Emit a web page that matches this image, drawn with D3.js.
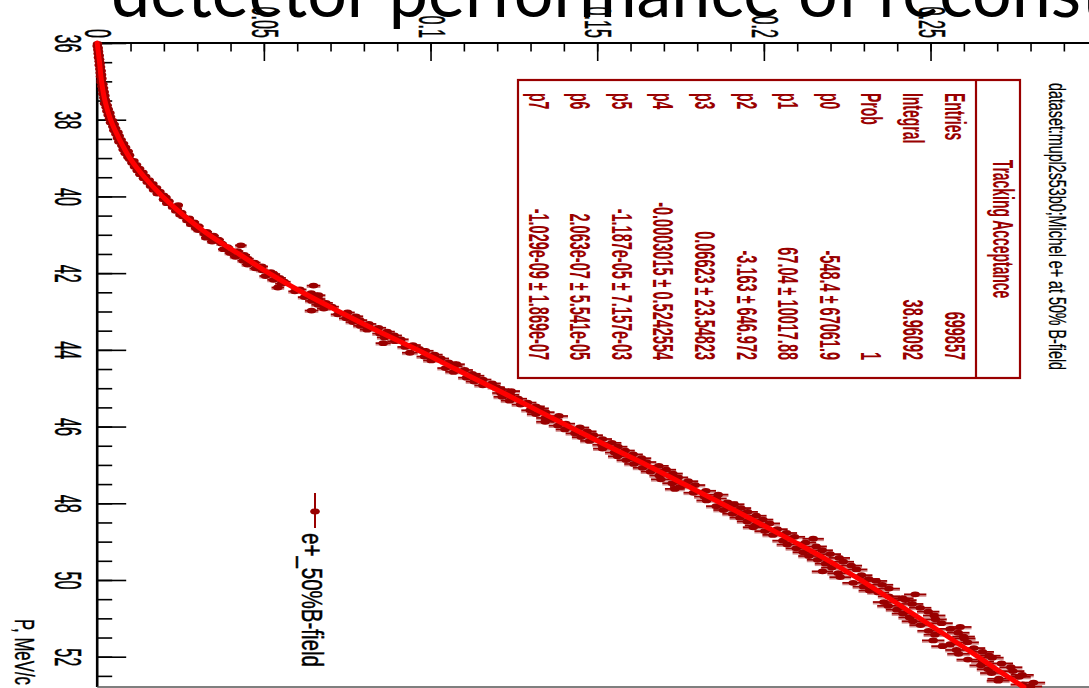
<!DOCTYPE html>
<html>
<head>
<meta charset="utf-8">
<script src="https://cdn.jsdelivr.net/npm/d3@7"></script>
<style>
  html, body { margin: 0; padding: 0; background: #fff; overflow: hidden; }
  svg { display: block; }
</style>
</head>
<body>
<svg id="chart" width="1089" height="688"></svg>
<script>
// ---- Histogram: tracking acceptance per momentum bin (0.05 MeV/c bins from 36 MeV/c) ----
const binStart = 36.0;
const binWidth = 0.05;
const acceptance = [
  0.0001, 0.0000, 0.0003, 0.0002, 0.0004, 0.0003, 0.0006, 0.0004, 0.0007, 0.0006,
  0.0009, 0.0006, 0.0010, 0.0008, 0.0012, 0.0009, 0.0013, 0.0010, 0.0014, 0.0012,
  0.0012, 0.0017, 0.0014, 0.0019, 0.0016, 0.0021, 0.0017, 0.0023, 0.0020, 0.0024,
  0.0026, 0.0022, 0.0030, 0.0027, 0.0033, 0.0029, 0.0038, 0.0033, 0.0040, 0.0037,
  0.0046, 0.0040, 0.0051, 0.0047, 0.0055, 0.0050, 0.0062, 0.0056, 0.0066, 0.0061,
  0.0072, 0.0065, 0.0079, 0.0074, 0.0085, 0.0078, 0.0093, 0.0084, 0.0097, 0.0092,
  0.0097, 0.0110, 0.0104, 0.0118, 0.0112, 0.0127, 0.0120, 0.0137, 0.0128, 0.0145,
  0.0139, 0.0156, 0.0150, 0.0167, 0.0160, 0.0178, 0.0169, 0.0188, 0.0180, 0.0199,
  0.0206, 0.0199, 0.0215, 0.0209, 0.0243, 0.0226, 0.0240, 0.0236, 0.0253, 0.0249,
  0.0258, 0.0276, 0.0270, 0.0291, 0.0281, 0.0304, 0.0296, 0.0303, 0.0329, 0.0322,
  0.0349, 0.0327, 0.0364, 0.0345, 0.0373, 0.0431, 0.0391, 0.0379, 0.0421, 0.0399,
  0.0441, 0.0415, 0.0452, 0.0438, 0.0472, 0.0451, 0.0494, 0.0475, 0.0495, 0.0521,
  0.0530, 0.0505, 0.0547, 0.0529, 0.0561, 0.0553, 0.0649, 0.0542, 0.0608, 0.0593,
  0.0642, 0.0664, 0.0622, 0.0664, 0.0644, 0.0686, 0.0663, 0.0704, 0.0680, 0.0643,
  0.0751, 0.0722, 0.0776, 0.0747, 0.0788, 0.0767, 0.0815, 0.0790, 0.0844, 0.0810,
  0.0870, 0.0848, 0.0891, 0.0862, 0.0911, 0.0893, 0.0858, 0.0947, 0.0924, 0.0966,
  0.0985, 0.0938, 0.1012, 0.0982, 0.1031, 0.1002, 0.1054, 0.1078, 0.1071, 0.1045,
  0.1102, 0.1069, 0.1125, 0.1136, 0.1108, 0.1157, 0.1131, 0.1185, 0.1157, 0.1197,
  0.1211, 0.1242, 0.1211, 0.1240, 0.1215, 0.1263, 0.1237, 0.1291, 0.1270, 0.1316,
  0.1328, 0.1299, 0.1345, 0.1316, 0.1385, 0.1344, 0.1368, 0.1344, 0.1406, 0.1382,
  0.1448, 0.1403, 0.1470, 0.1433, 0.1489, 0.1452, 0.1516, 0.1477, 0.1544, 0.1514,
  0.1562, 0.1516, 0.1584, 0.1552, 0.1608, 0.1561, 0.1633, 0.1587, 0.1648, 0.1610,
  0.1685, 0.1636, 0.1707, 0.1660, 0.1727, 0.1686, 0.1743, 0.1691, 0.1773, 0.1725,
  0.1794, 0.1748, 0.1733, 0.1826, 0.1789, 0.1863, 0.1821, 0.1858, 0.1828, 0.1891,
  0.1911, 0.1857, 0.1931, 0.1879, 0.1951, 0.1906, 0.1977, 0.1928, 0.1997, 0.1950,
  0.2017, 0.1974, 0.1968, 0.2040, 0.2003, 0.2068, 0.2027, 0.2092, 0.2148, 0.2057,
  0.2125, 0.2070, 0.2157, 0.2097, 0.2175, 0.2118, 0.2199, 0.2135, 0.2226, 0.2161,
  0.2238, 0.2185, 0.2262, 0.2204, 0.2278, 0.2176, 0.2223, 0.2293, 0.2229, 0.2315,
  0.2337, 0.2268, 0.2355, 0.2299, 0.2375, 0.2317, 0.2343, 0.2454, 0.2375, 0.2416,
  0.2425, 0.2360, 0.2445, 0.2373, 0.2469, 0.2399, 0.2493, 0.2417, 0.2511, 0.2437,
  0.2515, 0.2447, 0.2533, 0.2470, 0.2589, 0.2559, 0.2494, 0.2583, 0.2513, 0.2599,
  0.2601, 0.2508, 0.2611, 0.2559, 0.2536, 0.2630, 0.2578, 0.2656, 0.2584, 0.2676,
  0.2685, 0.2612, 0.2656, 0.2713, 0.2651, 0.2741, 0.2673, 0.2747, 0.2683, 0.2775,
  0.2766, 0.2705, 0.2703, 0.2809, 0.2775, 0.2800
];
// bin centres of the histogram
const momentum = acceptance.map((_, i) => +(binStart + (i + 0.5) * binWidth).toFixed(3));
// generated events per bin, used for the binomial error bars
const eventsPerBin = 20000;

// ---- pol7 fit, sampled at nodes along the momentum range ----
const fitMomentum = [36, 36.5, 37, 37.5, 38, 38.5, 39, 39.5, 40, 40.5, 41, 41.5, 42, 42.5,
  43, 43.5, 44, 44.5, 45, 45.5, 46, 46.5, 47, 47.5, 48, 48.5, 49, 49.5, 50, 50.5, 51, 51.5,
  52, 52.5, 52.79];
const fitAcceptance = [0, 0.0007, 0.0013, 0.0023, 0.0040, 0.0066, 0.0098, 0.0142, 0.0196,
  0.0260, 0.0335, 0.0425, 0.0515, 0.0615, 0.0725, 0.0840, 0.0960, 0.1075, 0.1190, 0.1303,
  0.1415, 0.1530, 0.1648, 0.1760, 0.1872, 0.1982, 0.2090, 0.2195, 0.2290, 0.2380, 0.2468,
  0.2556, 0.2642, 0.2728, 0.2780];

// ---- axes ----
const accDomain = [0, 0.3];
const accMajor = [0, 0.05, 0.1, 0.15, 0.2, 0.25];
const accMinor = d3.range(0, 30).map(i => i / 100);
const pDomain = [36, 52.79];
const pMajor = [36, 38, 40, 42, 44, 46, 48, 50, 52];
const pMinor = d3.range(0, 34).map(i => 36 + i / 2);

// ---- text ----
const slideTitle = "detector performance of reconstruction";
const padTitle = "dataset:mupl2s53b0;Michel e+ at 50% B-field";
const statsTitle = "Tracking Acceptance";
const statLabels = ["Entries", "Integral", "Prob", "p0", "p1", "p2", "p3", "p4", "p5", "p6", "p7"];
const statValues = ["699857", "38.96092", "1", "-548.4 \u00b1 67061.9", "67.04 \u00b1 10017.88",
  "-3.163 \u00b1 646.972", "0.06623 \u00b1 23.54823", "-0.0003015 \u00b1 0.5242554",
  "-1.187e-05 \u00b1 7.157e-03", "2.063e-07 \u00b1 5.541e-05", "-1.029e-09 \u00b1 1.869e-07"];
const legendLabel = "e+_50%B-field";
const pAxisTitle = "P, MeV/c";

// ---- drawing ----
const svg = d3.select("#chart");
const W = 1089, H = 688;
const X0 = 97.2, Y0 = 43, YB = 687;
const dark = "#990000";
const helv = "'Liberation Sans', Arial, Helvetica, sans-serif";

svg.append("rect").attr("width", W).attr("height", H).attr("fill", "#fff");

// the canvas is turned a quarter turn: acceptance runs to the right, momentum downwards
const x = d3.scaleLinear().domain(accDomain).range([X0, X0 + 1000]);
const y = d3.scaleLinear().domain(pDomain).range([Y0, YB]);

// text written top-to-bottom, squeezed along its reading direction
const rot = (tx, ty, sx) => `translate(${tx},${ty}) rotate(90) scale(${sx},1)`;

// top (acceptance) axis
const topMinor = svg.append("g").attr("transform", `translate(0,${Y0})`)
  .call(d3.axisBottom(x).tickValues(accMinor).tickSize(8.5).tickSizeOuter(0).tickFormat(""));
const topMajor = svg.append("g").attr("transform", `translate(0,${Y0})`)
  .call(d3.axisBottom(x).tickValues(accMajor.concat([0.3])).tickSize(18).tickSizeOuter(0)
    .tickFormat(d => accMajor.includes(d) ? (d === 0 ? "0" : String(+d.toFixed(2))) : ""));
[topMinor, topMajor].forEach(g => {
  g.select(".domain").remove();
  g.selectAll(".tick line").attr("stroke", "#000").attr("stroke-width", 1.6);
});
topMajor.attr("font-family", helv).attr("font-size", 36);
topMajor.selectAll(".tick text")
  .attr("y", null).attr("dy", null).attr("fill", "#000")
  .attr("stroke", "#000").attr("stroke-width", 0.5)
  .attr("text-anchor", "end")
  .attr("transform", rot(-12.5, -5, 0.45));

// left (momentum) axis
const leftMinor = svg.append("g").attr("transform", `translate(${X0},0)`)
  .call(d3.axisRight(y).tickValues(pMinor).tickSize(15).tickSizeOuter(0).tickFormat(""));
const leftMajor = svg.append("g").attr("transform", `translate(${X0},0)`)
  .call(d3.axisRight(y).tickValues(pMajor).tickSize(29).tickSizeOuter(0).tickFormat(d3.format("d")));
[leftMinor, leftMajor].forEach(g => {
  g.select(".domain").remove();
  g.selectAll(".tick line").attr("stroke", "#000").attr("stroke-width", 1.6);
});
leftMajor.attr("font-family", helv).attr("font-size", 36);
leftMajor.selectAll(".tick text")
  .attr("x", null).attr("dy", null).attr("fill", "#000")
  .attr("stroke", "#000").attr("stroke-width", 0.5)
  .attr("text-anchor", "middle")
  .attr("transform", rot(55 - X0, 0, 0.45));

// frame
svg.append("line").attr("x1", X0).attr("x2", W).attr("y1", Y0).attr("y2", Y0)
  .attr("stroke", "#000").attr("stroke-width", 2.2);
svg.append("line").attr("x1", X0).attr("x2", X0).attr("y1", Y0).attr("y2", YB)
  .attr("stroke", "#000").attr("stroke-width", 2.6);
svg.append("line").attr("x1", X0).attr("x2", W).attr("y1", YB).attr("y2", YB)
  .attr("stroke", "#555").attr("stroke-width", 1.6);

// axis title
svg.append("text").text(pAxisTitle)
  .attr("transform", rot(15, 685, 1)).attr("text-anchor", "end")
  .attr("font-family", helv).attr("font-size", 28).attr("fill", "#000")
  .attr("stroke", "#000").attr("stroke-width", 0.4)
  .attr("textLength", 66).attr("lengthAdjust", "spacingAndGlyphs");

// pad title
svg.append("text").text(padTitle)
  .attr("transform", rot(1049, 83, 1)).attr("text-anchor", "start")
  .attr("font-family", helv).attr("font-size", 24).attr("fill", "#000")
  .attr("stroke", "#000").attr("stroke-width", 0.3)
  .attr("textLength", 287).attr("lengthAdjust", "spacingAndGlyphs");

// data points with binomial error bars
const points = momentum.map((p, i) => {
  const a = acceptance[i];
  return { p, a, e: Math.sqrt(a * (1 - a) / eventsPerBin) };
});
const gPts = svg.append("g");
gPts.selectAll("line.shade").data(points).join("line").attr("class", "shade")
  .attr("x1", d => x(d.a - d.e) - 1).attr("x2", d => x(d.a + d.e) + 1)
  .attr("y1", d => y(d.p) + 1.6).attr("y2", d => y(d.p) + 1.6)
  .attr("stroke", "#c46a6a").attr("stroke-width", 1.6).attr("opacity", 0.75);
gPts.selectAll("line.err").data(points).join("line").attr("class", "err")
  .attr("x1", d => x(d.a - d.e) - 1).attr("x2", d => x(d.a + d.e) + 1)
  .attr("y1", d => y(d.p)).attr("y2", d => y(d.p))
  .attr("stroke", dark).attr("stroke-width", 1.8);
gPts.selectAll("ellipse").data(points).join("ellipse")
  .attr("cx", d => x(d.a)).attr("cy", d => y(d.p))
  .attr("rx", 4.8).attr("ry", 2.9).attr("fill", dark);

// fit curve
const fitPts = fitMomentum.map((p, i) => ({ p, a: fitAcceptance[i] }));
svg.append("path").datum(fitPts)
  .attr("d", d3.line().x(d => x(d.a)).y(d => y(d.p)).curve(d3.curveMonotoneY))
  .attr("fill", "none").attr("stroke", "#ff0000").attr("stroke-width", 5)
  .attr("stroke-linecap", "round");

// statistics box
const box = { left: 518, right: 1020, top: 80, bottom: 378, sep: 976 };
svg.append("rect").attr("x", box.left).attr("y", box.top)
  .attr("width", box.right - box.left).attr("height", box.bottom - box.top)
  .attr("fill", "#fff").attr("stroke", dark).attr("stroke-width", 2.2);
svg.append("line").attr("x1", box.sep).attr("x2", box.sep).attr("y1", box.top).attr("y2", box.bottom)
  .attr("stroke", dark).attr("stroke-width", 2.2);
const statFont = g => g.attr("font-family", helv).attr("font-size", 29)
  .attr("font-weight", "bold").attr("fill", dark);
svg.append("text").text(statsTitle)
  .attr("transform", rot(993, (box.top + box.bottom) / 2, 0.48)).attr("text-anchor", "middle")
  .call(statFont);
const rowBase = i => 944.6 - i * 41.6;
svg.append("g").call(statFont).selectAll("text").data(statLabels).join("text")
  .text(d => d)
  .attr("transform", (d, i) => rot(rowBase(i), 93, 0.48)).attr("text-anchor", "start");
svg.append("g").call(statFont).selectAll("text").data(statValues).join("text")
  .text(d => d)
  .attr("transform", (d, i) => rot(rowBase(i), 360, 0.5)).attr("text-anchor", "end");

// legend
svg.append("line").attr("x1", 315).attr("x2", 315).attr("y1", 493).attr("y2", 528)
  .attr("stroke", dark).attr("stroke-width", 2);
svg.append("ellipse").attr("cx", 315).attr("cy", 511.5).attr("rx", 4.8).attr("ry", 2.9).attr("fill", dark);
svg.append("text").text(legendLabel)
  .attr("transform", rot(302, 533, 1)).attr("text-anchor", "start")
  .attr("font-family", helv).attr("font-size", 30).attr("fill", "#000")
  .attr("stroke", "#000").attr("stroke-width", 0.5)
  .attr("textLength", 134).attr("lengthAdjust", "spacingAndGlyphs");

// slide heading laid over the top of the plot
svg.append("text").text(slideTitle)
  .attr("x", 111).attr("y", 17)
  .attr("font-family", "Lato, 'Open Sans', sans-serif").attr("font-size", 70)
  .attr("fill", "#000");
</script>
</body>
</html>
